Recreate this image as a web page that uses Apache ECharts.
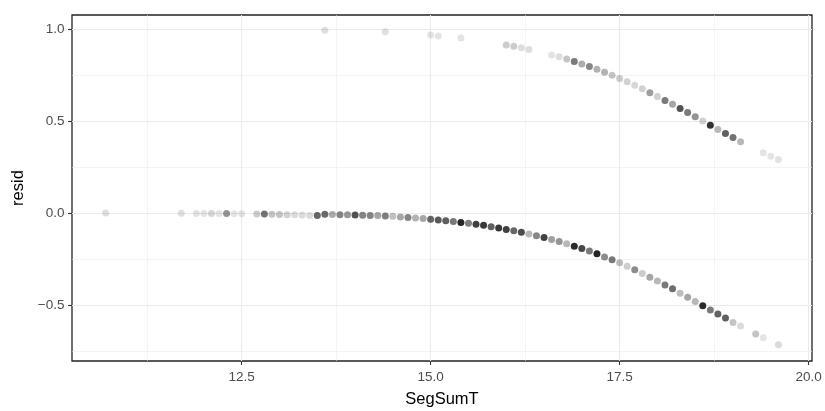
<!DOCTYPE html>
<html>
<head>
<meta charset="utf-8">
<script src="https://cdn.jsdelivr.net/npm/echarts@6/dist/echarts.min.js"></script>
<style>
  html, body { margin: 0; padding: 0; background: #fff; }
  #chart { width: 825px; height: 411px; }
</style>
</head>
<body>
<div id="chart"></div>
<script>
// Upper curve (observations at 1)
const upperX = [13.6, 14.4, 15.0, 15.1, 15.4, 16.0, 16.1, 16.2, 16.3, 16.6, 16.7, 16.8, 16.9, 17.0, 17.1, 17.2, 17.3, 17.4, 17.5, 17.6, 17.7, 17.8, 17.9, 18.0, 18.1, 18.2, 18.3, 18.4, 18.5, 18.6, 18.7, 18.8, 18.9, 19.0, 19.1, 19.4, 19.5, 19.6];
const upperResid = [0.992, 0.984, 0.967, 0.962, 0.950, 0.913, 0.906, 0.897, 0.888, 0.858, 0.848, 0.836, 0.823, 0.809, 0.795, 0.780, 0.764, 0.748, 0.730, 0.712, 0.693, 0.674, 0.653, 0.633, 0.611, 0.590, 0.567, 0.545, 0.522, 0.499, 0.476, 0.453, 0.431, 0.409, 0.387, 0.326, 0.308, 0.290];
const upperAlpha = [0.12, 0.12, 0.11, 0.11, 0.11, 0.2, 0.2, 0.13, 0.13, 0.11, 0.13, 0.23, 0.52, 0.32, 0.47, 0.3, 0.3, 0.23, 0.2, 0.18, 0.16, 0.18, 0.38, 0.18, 0.52, 0.35, 0.68, 0.52, 0.42, 0.18, 0.8, 0.28, 0.62, 0.55, 0.28, 0.11, 0.11, 0.11];

// Lower curve (observations at 0)
const lowerX = [10.7, 11.7, 11.9, 12.0, 12.1, 12.2, 12.3, 12.4, 12.5, 12.7, 12.8, 12.9, 13.0, 13.1, 13.2, 13.3, 13.4, 13.5, 13.6, 13.7, 13.8, 13.9, 14.0, 14.1, 14.2, 14.3, 14.4, 14.5, 14.6, 14.7, 14.8, 14.9, 15.0, 15.1, 15.2, 15.3, 15.4, 15.5, 15.6, 15.7, 15.8, 15.9, 16.0, 16.1, 16.2, 16.3, 16.4, 16.5, 16.6, 16.7, 16.8, 16.9, 17.0, 17.1, 17.2, 17.3, 17.4, 17.5, 17.6, 17.7, 17.8, 17.9, 18.0, 18.1, 18.2, 18.3, 18.4, 18.5, 18.6, 18.7, 18.8, 18.9, 19.0, 19.1, 19.3, 19.4, 19.6];
const lowerResid = [-0.001, -0.002, -0.003, -0.003, -0.004, -0.004, -0.004, -0.005, -0.005, -0.006, -0.007, -0.008, -0.009, -0.010, -0.011, -0.012, -0.014, -0.015, -0.008, -0.009, -0.010, -0.011, -0.012, -0.013, -0.014, -0.015, -0.017, -0.019, -0.022, -0.025, -0.028, -0.031, -0.035, -0.039, -0.043, -0.047, -0.052, -0.057, -0.062, -0.068, -0.075, -0.082, -0.090, -0.097, -0.106, -0.115, -0.124, -0.134, -0.145, -0.156, -0.168, -0.181, -0.194, -0.208, -0.223, -0.240, -0.255, -0.272, -0.291, -0.310, -0.330, -0.350, -0.370, -0.392, -0.413, -0.437, -0.459, -0.482, -0.505, -0.528, -0.550, -0.572, -0.596, -0.615, -0.659, -0.679, -0.717];
const lowerAlpha = [0.12, 0.12, 0.11, 0.11, 0.16, 0.11, 0.42, 0.11, 0.11, 0.2, 0.55, 0.23, 0.23, 0.18, 0.14, 0.14, 0.14, 0.6, 0.58, 0.33, 0.48, 0.4, 0.68, 0.48, 0.48, 0.35, 0.5, 0.25, 0.35, 0.48, 0.3, 0.35, 0.6, 0.65, 0.63, 0.53, 0.85, 0.5, 0.75, 0.78, 0.62, 0.78, 0.75, 0.6, 0.7, 0.28, 0.47, 0.74, 0.37, 0.42, 0.28, 0.83, 0.72, 0.52, 0.86, 0.45, 0.52, 0.26, 0.19, 0.45, 0.2, 0.35, 0.28, 0.52, 0.57, 0.26, 0.35, 0.28, 0.83, 0.52, 0.62, 0.62, 0.23, 0.14, 0.23, 0.1, 0.14];

// Axis ticks
const xMajor = [12.5, 15.0, 17.5, 20.0];
const xMinor = [11.25, 13.75, 16.25, 18.75];
const yMajor = [-0.5, 0.0, 0.5, 1.0];
const yMinor = [-0.75, -0.25, 0.25, 0.75];
const xRange = [10.255, 20.045];
const yRange = [-0.8055, 1.0755];

function zip(xs, ys, as) { return xs.map((x, i) => [x, ys[i], as[i]]); }
const fmt = v => v.toFixed(1).replace('-', '\u2212');
const FONT = 'Liberation Sans, Arial, Helvetica, sans-serif';
const gridColor = '#EBEBEB';

const chart = echarts.init(document.getElementById('chart'), null, { renderer: 'canvas' });
chart.setOption({
  animation: false,
  backgroundColor: '#ffffff',
  textStyle: { fontFamily: FONT },
  grid: { left: 72, right: 13, top: 15, bottom: 50, show: true, borderColor: '#222222', borderWidth: 1.3, backgroundColor: '#ffffff', containLabel: false, outerBoundsMode: 'none' },
  visualMap: { show: false, type: 'continuous', dimension: 2, min: 0, max: 1, inRange: { opacity: [0, 1] }, seriesIndex: [0, 1] },
  xAxis: [
    {
      type: 'value', min: xRange[0], max: xRange[1], position: 'bottom',
      axisLine: { show: false, onZero: false },
      axisTick: { show: true, customValues: xMajor, length: 4, lineStyle: { color: '#333333', width: 1.1 } },
      axisLabel: { customValues: xMajor, formatter: fmt, color: '#4D4D4D', fontSize: 13.5, margin: 9, fontFamily: FONT },
      splitLine: { show: true, lineStyle: { color: gridColor, width: 1.1 } },
      name: 'SegSumT', nameLocation: 'middle', nameGap: 30,
      nameTextStyle: { color: '#000000', fontSize: 16.5, fontFamily: FONT, lineHeight: 17 }
    },
    {
      type: 'value', min: xRange[0], max: xRange[1], position: 'bottom',
      axisLine: { show: false, onZero: false },
      axisTick: { show: false, customValues: xMinor },
      axisLabel: { show: false, customValues: xMinor },
      splitLine: { show: true, lineStyle: { color: gridColor, width: 0.55 } }
    }
  ],
  yAxis: [
    {
      type: 'value', min: yRange[0], max: yRange[1], position: 'left',
      axisLine: { show: false, onZero: false },
      axisTick: { show: true, customValues: yMajor, length: 4, lineStyle: { color: '#333333', width: 1.1 } },
      axisLabel: { customValues: yMajor, formatter: fmt, color: '#4D4D4D', fontSize: 13.5, margin: 7.5, fontFamily: FONT },
      splitLine: { show: true, lineStyle: { color: gridColor, width: 1.1 } },
      name: 'resid', nameLocation: 'middle', nameRotate: 90, nameGap: 45,
      nameTextStyle: { color: '#000000', fontSize: 16.5, fontFamily: FONT, lineHeight: 17 }
    },
    {
      type: 'value', min: yRange[0], max: yRange[1], position: 'left',
      axisLine: { show: false, onZero: false },
      axisTick: { show: false, customValues: yMinor },
      axisLabel: { show: false, customValues: yMinor },
      splitLine: { show: true, lineStyle: { color: gridColor, width: 0.55 } }
    }
  ],
  series: [
    { type: 'scatter', name: 'upper', xAxisIndex: 0, yAxisIndex: 0, data: zip(upperX, upperResid, upperAlpha), symbol: 'circle', symbolSize: 7, itemStyle: { color: '#000000' }, z: 5 },
    { type: 'scatter', name: 'lower', xAxisIndex: 0, yAxisIndex: 0, data: zip(lowerX, lowerResid, lowerAlpha), symbol: 'circle', symbolSize: 7, itemStyle: { color: '#000000' }, z: 5 }
  ]
});
</script>
</body>
</html>
